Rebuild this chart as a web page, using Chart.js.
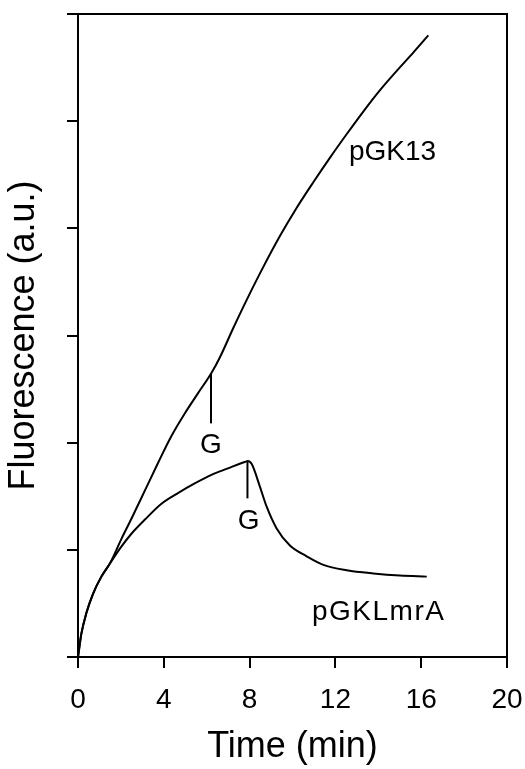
<!DOCTYPE html>
<html>
<head>
<meta charset="utf-8">
<script src="https://cdn.jsdelivr.net/npm/chart.js@4/dist/chart.umd.min.js"></script>
<style>
  html, body { margin: 0; padding: 0; background: #ffffff; }
  #wrap { width: 525px; height: 769px; position: relative; }
</style>
</head>
<body>
<div id="wrap"><canvas id="c"></canvas></div>
<script>
// ---- Data (time in min, fluorescence in a.u.) ----
const timeGK13 = [0, 0.16, 0.39, 0.70, 1.09, 1.48, 2.02, 2.49, 3.11, 3.73, 4.35, 4.97, 5.59, 6.22, 6.60, 7.24, 7.86, 8.64, 9.42, 10.19, 10.97, 11.75, 12.53, 13.30, 14.08, 14.86, 15.63, 16.33];
const valGK13  = [0, 0.22, 0.41, 0.59, 0.75, 0.87, 1.10, 1.29, 1.55, 1.81, 2.06, 2.27, 2.46, 2.65, 2.79, 3.07, 3.33, 3.64, 3.93, 4.19, 4.43, 4.66, 4.88, 5.09, 5.29, 5.47, 5.64, 5.80];

const timeLmrA = [0, 0.16, 0.39, 0.70, 1.09, 1.48, 2.02, 2.49, 3.11, 3.89, 4.66, 5.44, 6.22, 6.99, 7.77, 7.92, 8.10, 8.48, 8.80, 9.26, 9.88, 10.66, 11.44, 12.53, 13.77, 15.01, 16.26];
const valLmrA  = [0, 0.22, 0.41, 0.59, 0.75, 0.87, 1.03, 1.15, 1.28, 1.43, 1.53, 1.62, 1.70, 1.76, 1.82, 1.83, 1.80, 1.59, 1.40, 1.20, 1.04, 0.94, 0.86, 0.81, 0.78, 0.76, 0.75];

const xTicks = [0, 4, 8, 12, 16, 20];
const yTicks = [0, 1, 2, 3, 4, 5, 6];

// Text labels placed in data coordinates
const labelTexts = ['pGK13', 'pGKLmrA', 'G', 'G'];
const labelT     = [12.63, 10.91, 6.20, 7.95];
const labelV     = [4.71, 0.415, 1.98, 1.27];

// Glucose-addition marker lines (time, from value, to value)
const markT     = [6.20, 7.90];
const markFrom  = [2.65, 1.82];
const markTo    = [2.18, 1.48];

const toXY = (ts, vs) => ts.map((t, i) => ({ x: t, y: vs[i] }));

const FONT = '"Liberation Sans", Arial, Helvetica, sans-serif';

const decor = {
  id: 'decor',
  beforeDraw(chart) {
    const ctx = chart.ctx;
    ctx.save();
    ctx.fillStyle = '#ffffff';
    ctx.fillRect(0, 0, chart.width, chart.height);
    ctx.restore();
  },
  afterDatasetsDraw(chart) {
    const { ctx, chartArea: a, scales: { x, y } } = chart;
    ctx.save();
    // top and right frame
    ctx.strokeStyle = '#000';
    ctx.lineWidth = 2;
    ctx.beginPath();
    ctx.moveTo(a.left, a.top);
    ctx.lineTo(a.right, a.top);
    ctx.lineTo(a.right, a.bottom);
    ctx.stroke();
    // marker lines
    markT.forEach((t, i) => {
      const px = x.getPixelForValue(t);
      ctx.beginPath();
      ctx.moveTo(px, y.getPixelForValue(markFrom[i]));
      ctx.lineTo(px, y.getPixelForValue(markTo[i]));
      ctx.stroke();
    });
    // text labels
    ctx.fillStyle = '#000';
    ctx.textBaseline = 'middle';
    labelTexts.forEach((txt, i) => {
      const isG = txt === 'G';
      ctx.font = '28px ' + FONT;
      ctx.textAlign = isG ? 'center' : 'left';
      if ('letterSpacing' in ctx) ctx.letterSpacing = (txt === 'pGKLmrA') ? '1.5px' : '0px';
      ctx.fillText(txt, x.getPixelForValue(labelT[i]), y.getPixelForValue(labelV[i]));
    });
    ctx.restore();
  }
};

new Chart(document.getElementById('c'), {
  type: 'line',
  data: {
    datasets: [
      { label: 'pGK13', data: toXY(timeGK13, valGK13), borderColor: '#000', borderWidth: 2, pointRadius: 0, cubicInterpolationMode: 'monotone', fill: false },
      { label: 'pGKLmrA', data: toXY(timeLmrA, valLmrA), borderColor: '#000', borderWidth: 2, pointRadius: 0, cubicInterpolationMode: 'monotone', fill: false }
    ]
  },
  options: {
    responsive: true,
    maintainAspectRatio: false,
    animation: false,
    layout: { padding: { left: 0, right: 18, top: 14, bottom: 0 } },
    plugins: { legend: { display: false }, tooltip: { enabled: false } },
    scales: {
      x: {
        type: 'linear',
        min: 0, max: 20,
        afterBuildTicks: (s) => { s.ticks = xTicks.map(v => ({ value: v })); },
        afterFit: (s) => { s.height = 112; s.paddingLeft = 0; s.paddingRight = 0; },
        ticks: { color: '#000', font: { family: FONT, size: 28 }, padding: 15, maxRotation: 0 },
        grid: { drawOnChartArea: false, drawTicks: true, tickLength: 11, color: '#000', lineWidth: 2 },
        border: { display: true, color: '#000', width: 2 },
        title: { display: true, text: 'Time (min)', color: '#000', font: { family: FONT, size: 36 }, padding: { top: 0, bottom: 0 } }
      },
      y: {
        type: 'linear',
        min: 0, max: 6,
        afterBuildTicks: (s) => { s.ticks = yTicks.map(v => ({ value: v })); },
        afterFit: (s) => { s.width = 78; s.paddingTop = 0; s.paddingBottom = 0; },
        ticks: { display: false },
        grid: { drawOnChartArea: false, drawTicks: true, tickLength: 11, color: '#000', lineWidth: 2 },
        border: { display: true, color: '#000', width: 2 },
        title: { display: true, text: 'Fluorescence (a.u.)', color: '#000', font: { family: FONT, size: 36 }, padding: { top: 2, bottom: 0 } }
      }
    }
  },
  plugins: [decor]
});
</script>
</body>
</html>
